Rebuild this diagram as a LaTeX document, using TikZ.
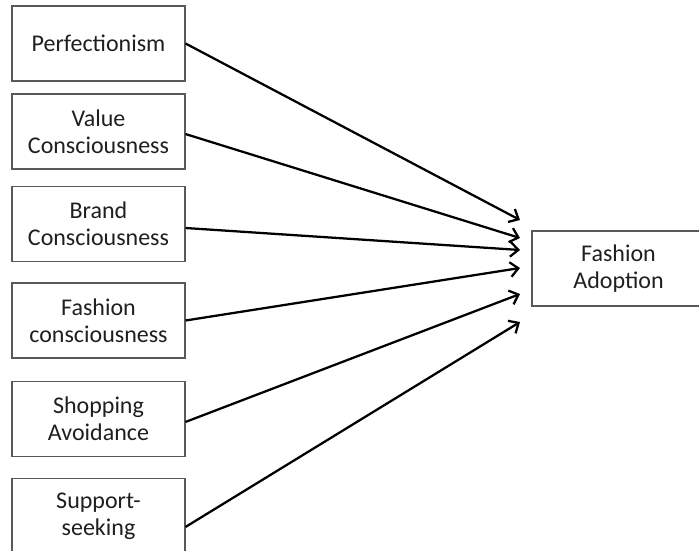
\documentclass[tikz,border=0pt]{standalone}
\usepackage{fontspec}
\setmainfont{Carlito}
\usetikzlibrary{arrows.meta}
\begin{document}
\begin{tikzpicture}[x=0.75pt,y=-0.75pt,
  box/.style={draw=black!65, line width=0.8pt, minimum width=129.75pt, minimum height=56.25pt,
    inner sep=0pt, align=center, text=black!88, font=\fontsize{18}{20.3}\selectfont},
  arr/.style={line width=1.7pt, -{Straight Barb[length=6pt,width=11pt,line width=1.7pt]}}]
\useasboundingbox (0,0) rectangle (699,550);
\clip (0,0) rectangle (699,550);
\node[box] (p)  at (98.5,43.5)  {Perfectionism};
\node[box] (v)  at (98.5,131.5) {Value\\Consciousness};
\node[box] (b)  at (98.5,224)   {Brand\\Consciousness};
\node[box] (f)  at (98.5,320.5) {Fashion\\consciousness};
\node[box] (s)  at (98.5,419)   {Shopping\\Avoidance};
\node[box] (ss) at (98.5,516)   {Support-\\seeking};
\node[box] (fa) at (618.5,268.5) {Fashion\\Adoption};
\coordinate (t1) at (520,220);
\coordinate (t2) at (520,238);
\coordinate (t3) at (520,250);
\coordinate (t4) at (520,268);
\coordinate (t5) at (520,294);
\coordinate (t6) at (520,322);
\draw[arr] (p.east) -- (t1);
\draw[arr] ([yshift=-1.9pt]v.east) -- (t2);
\draw[arr] ([yshift=-3pt]b.east) -- (t3);
\draw[arr] (f.east) -- (t4);
\draw[arr] ([yshift=-2.2pt]s.east) -- (t5);
\draw[arr] ([yshift=-8.2pt]ss.east) -- (t6);
\end{tikzpicture}
\end{document}
